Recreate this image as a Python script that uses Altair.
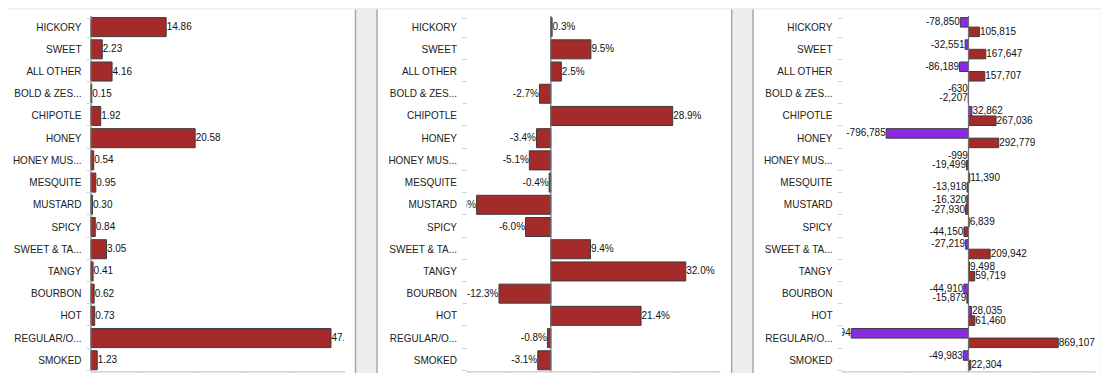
import altair as alt
import pandas as pd

categories = ["HICKORY", "SWEET", "ALL OTHER", "BOLD & ZES...", "CHIPOTLE", "HONEY",
              "HONEY MUS...", "MESQUITE", "MUSTARD", "SPICY", "SWEET & TA...", "TANGY",
              "BOURBON", "HOT", "REGULAR/O...", "SMOKED"]
share = [14.86, 2.23, 4.16, 0.15, 1.92, 20.58, 0.54, 0.95, 0.30, 0.84, 3.05, 0.41,
         0.62, 0.73, 47.43, 1.23]
pct_change = [0.3, 9.5, 2.5, -2.7, 28.9, -3.4, -5.1, -0.4, -17.6, -6.0, 9.4, 32.0,
              -12.3, 21.4, -0.8, -3.1]
change_1 = [-78850, -32551, -86189, -630, 32862, -796785, -999, 11390, -16320, 6839,
            -27219, 9498, -44910, 28035, -1135894, -49983]
change_2 = [105815, 167647, 157707, -2207, 267036, 292779, -19499, -13918, -27930, -44150,
            209942, 59719, -15879, 61460, 869107, 22304]
series_names = ["change 1", "change 2"]

RED = "#a52a2a"
PURPLE = "#8a2be2"
FONT = "Liberation Sans"
W = 253
H = 355.4

df1 = pd.DataFrame({"cat": categories, "v": share,
                    "label": [f"{v:.2f}" for v in share]})
df2 = pd.DataFrame({"cat": categories, "v": pct_change,
                    "label": [f"{v:.1f}%" for v in pct_change]})
rows3 = []
for c, a, b in zip(categories, change_1, change_2):
    rows3.append({"cat": c, "series": series_names[0], "v": a, "label": f"{a:,}"})
    rows3.append({"cat": c, "series": series_names[1], "v": b, "label": f"{b:,}"})
df3 = pd.DataFrame(rows3)


def y_enc():
    return alt.Y("cat:N", sort=categories, title=None,
                 scale=alt.Scale(domain=categories, paddingInner=0.144, paddingOuter=0.072),
                 axis=alt.Axis(orient="left", domain=False, ticks=True, tickBand="extent",
                               tickSize=5, tickColor="#c9d5e3", labelPadding=5,
                               labelFontSize=10, labelFont=FONT, labelColor="#222222",
                               zindex=1))


def x_enc(field, domain, values):
    return alt.X(f"{field}:Q", title=None,
                 scale=alt.Scale(domain=domain, nice=False, zero=False),
                 axis=alt.Axis(orient="bottom", values=values, labels=False, grid=False,
                               domainColor="#b8b8b8", tickColor="#c9d5e3", tickSize=5,
                               zindex=1))


def frame(left, right, left_border=True, right_border=True):
    base = alt.Chart(pd.DataFrame({"f": [0]}))
    layers = [base.mark_rect(fill="white").encode(
        x=alt.value(left), x2=alt.value(right), y=alt.value(-6.6), y2=alt.value(H + 6))]
    if left_border:
        layers.append(base.mark_rule(color="#a8a8a8", strokeWidth=1.5).encode(
            x=alt.value(left), y=alt.value(-6.6), y2=alt.value(H + 6)))
    if right_border:
        layers.append(base.mark_rule(color="#a8a8a8", strokeWidth=1.5).encode(
            x=alt.value(right), y=alt.value(-6.6), y2=alt.value(H + 6)))
    return layers


def zero_rule(domain, values):
    return alt.Chart(pd.DataFrame({"z": [0]})).mark_rule(
        color="#707070", strokeWidth=1.2).encode(x=x_enc("z", domain, values))


text_style = dict(baseline="middle", fontSize=10, font=FONT, color="#111111", clip=True)
bar_style = dict(stroke="#3b3b3b", strokeWidth=1)

# Panel 1
d1, v1 = [0, 50], [0, 10, 20, 30, 40, 50]
bars1 = alt.Chart(df1).mark_bar(color=RED, **bar_style).encode(
    x=x_enc("v", d1, v1), y=y_enc())
text1 = alt.Chart(df1).mark_text(align="left", dx=0.5, **text_style).encode(
    x=x_enc("v", d1, v1), y=y_enc(), text="label:N")
p1 = alt.layer(*frame(-83, 264.5, left_border=False), bars1, zero_rule(d1, v1), text1
               ).properties(width=W, height=H)

# Panel 2
d2, v2 = [-20, 40], [-20, -10, 0, 10, 20, 30, 40]
bars2 = alt.Chart(df2).mark_bar(color=RED, **bar_style).encode(
    x=x_enc("v", d2, v2), y=y_enc())
text2p = alt.Chart(df2).transform_filter("datum.v >= 0").mark_text(
    align="left", dx=0.5, **text_style).encode(x=x_enc("v", d2, v2), y=y_enc(), text="label:N")
text2n = alt.Chart(df2).transform_filter("datum.v < 0").mark_text(
    align="right", dx=-0.5, **text_style).encode(x=x_enc("v", d2, v2), y=y_enc(), text="label:N")
p2 = alt.layer(*frame(-89.5, 265.2), bars2, zero_rule(d2, v2), text2p, text2n
               ).properties(width=W, height=H)

# Panel 3
d3 = [-1225000, 1225000]
v3 = [-1225000, -612500, 0, 612500, 1225000]
yoff = alt.YOffset("series:N", sort=series_names,
                   scale=alt.Scale(domain=series_names, paddingInner=0, paddingOuter=0))
bars3 = alt.Chart(df3).mark_bar(**bar_style).encode(
    x=x_enc("v", d3, v3), y=y_enc(), yOffset=yoff,
    color=alt.Color("series:N", scale=alt.Scale(domain=series_names, range=[PURPLE, RED]),
                    legend=None))
text3p = alt.Chart(df3).transform_filter("datum.v >= 0").mark_text(
    align="left", dx=0.5, **text_style).encode(
    x=x_enc("v", d3, v3), y=y_enc(), yOffset=yoff, text="label:N")
text3n = alt.Chart(df3).transform_filter("datum.v < 0").mark_text(
    align="right", dx=-0.5, **text_style).encode(
    x=x_enc("v", d3, v3), y=y_enc(), yOffset=yoff, text="label:N")
p3 = alt.layer(*frame(-89, 258.5, right_border=False), bars3, zero_rule(d3, v3),
               text3p, text3n).properties(width=W, height=H)

chart = alt.hconcat(p1, p2, p3, spacing=122.5, bounds="flush").properties(
    padding=0, background="#eeeeee"
).configure_view(stroke=None)

chart.save("out.html", embed_options={"renderer": "svg", "actions": False})
